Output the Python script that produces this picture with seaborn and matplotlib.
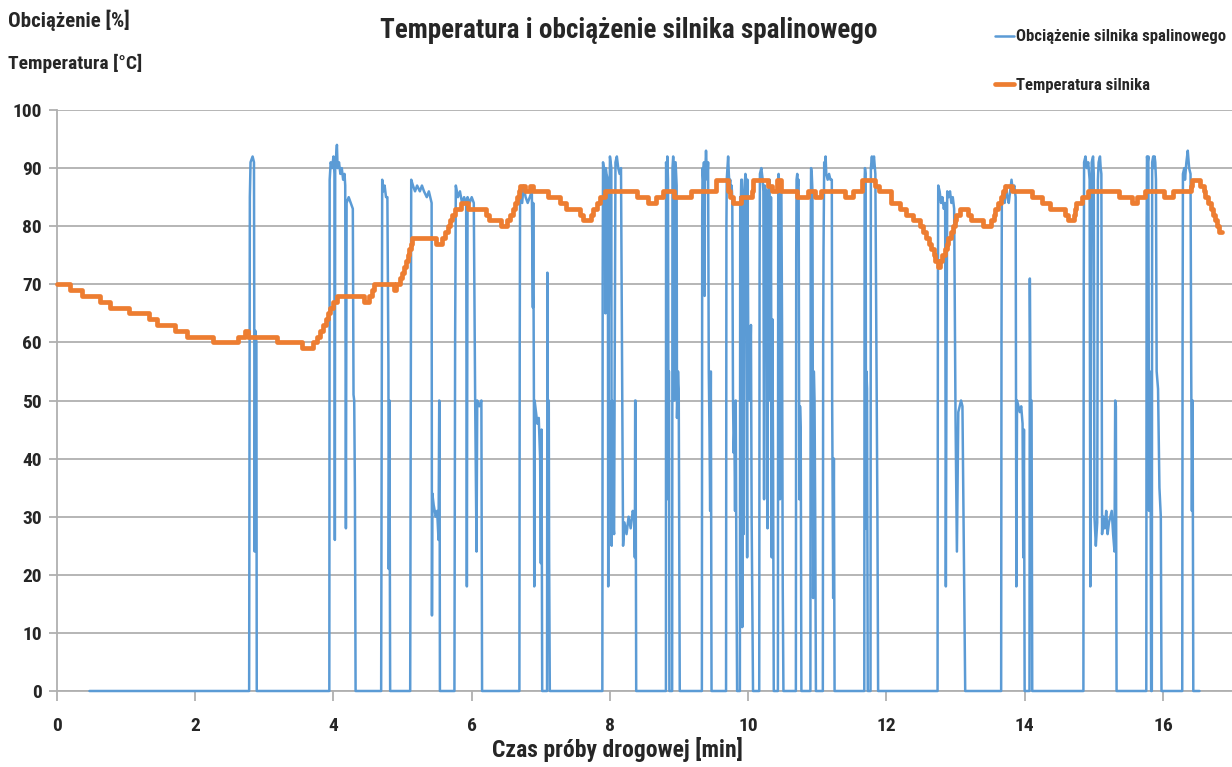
import numpy as np
import pandas as pd
import matplotlib
matplotlib.use("Agg")
import matplotlib.pyplot as plt
from matplotlib import font_manager
import seaborn as sns

# Engine temperature: step starts [min] and value held from that moment [°C]
temp_t = [0.00, 0.19, 0.36, 0.62, 0.77, 1.04, 1.33, 1.45, 1.71, 1.88,
          2.26, 2.62, 2.72, 2.76, 3.18, 3.55, 3.71, 3.76, 3.81, 3.85,
          3.89, 3.92, 3.95, 4.00, 4.05, 4.44, 4.51, 4.56, 4.58, 4.88,
          4.91, 4.96, 4.99, 5.02, 5.05, 5.08, 5.10, 5.12, 5.14, 5.48,
          5.57, 5.61, 5.65, 5.68, 5.71, 5.76, 5.84, 5.94, 6.20, 6.25,
          6.42, 6.51, 6.55, 6.60, 6.63, 6.65, 6.68, 6.70, 6.77, 6.84,
          6.89, 7.11, 7.28, 7.37, 7.57, 7.61, 7.72, 7.76, 7.81, 7.86,
          7.93, 8.39, 8.55, 8.67, 8.77, 8.92, 9.18, 9.54, 9.71, 9.73,
          9.78, 9.90, 10.05, 10.07, 10.29, 10.34, 10.41, 10.48, 10.70, 10.87,
          10.96, 11.06, 11.40, 11.52, 11.64, 11.83, 11.90, 12.07, 12.19, 12.29,
          12.39, 12.48, 12.53, 12.57, 12.61, 12.65, 12.69, 12.71, 12.75, 12.78,
          12.81, 12.85, 12.87, 12.89, 12.93, 12.96, 12.99, 13.01, 13.06, 13.18,
          13.23, 13.40, 13.52, 13.55, 13.57, 13.62, 13.66, 13.69, 13.71, 13.81,
          14.10, 14.25, 14.37, 14.58, 14.63, 14.71, 14.73, 14.75, 14.83, 14.92,
          15.36, 15.55, 15.62, 15.74, 16.01, 16.15, 16.40, 16.42, 16.54, 16.59,
          16.61, 16.66, 16.69, 16.73, 16.76, 16.79, 16.81, 16.86]
temp_v = [70, 69, 68, 67, 66, 65, 64, 63, 62, 61,
          60, 61, 62, 61, 60, 59, 60, 61, 62, 63,
          64, 65, 66, 67, 68, 67, 68, 69, 70, 69,
          70, 71, 72, 73, 74, 75, 76, 77, 78, 77,
          78, 79, 80, 81, 82, 83, 84, 83, 82, 81,
          80, 81, 82, 83, 84, 85, 86, 87, 86, 87,
          86, 85, 84, 83, 82, 81, 82, 83, 84, 85,
          86, 85, 84, 85, 86, 85, 86, 88, 86, 85,
          84, 85, 86, 88, 87, 86, 88, 86, 85, 86,
          85, 86, 85, 86, 88, 87, 86, 84, 83, 82,
          81, 80, 79, 78, 77, 76, 75, 74, 73, 74,
          75, 76, 77, 78, 79, 80, 81, 82, 83, 82,
          81, 80, 81, 82, 83, 84, 85, 86, 87, 86,
          85, 84, 83, 82, 81, 82, 83, 84, 85, 86,
          85, 84, 85, 86, 85, 86, 87, 88, 87, 86,
          85, 84, 83, 82, 81, 80, 79, 79]

# Engine load readings [min] -> [%], one line per working burst
load_t = [0.47, 2.78,
          2.79, 2.80, 2.83, 2.85, 2.855, 2.86, 2.87, 2.885, 2.89, 3.94,
          3.945, 3.96, 3.98, 4.00, 4.015, 4.02, 4.025, 4.05, 4.06, 4.08, 4.10, 4.12, 4.14, 4.16, 4.17, 4.18, 4.19, 4.22, 4.25, 4.28, 4.29, 4.30, 4.31, 4.32, 4.69,
          4.70, 4.705, 4.72, 4.74, 4.76, 4.78, 4.795, 4.80, 4.81, 4.82, 5.11,
          5.12, 5.125, 5.15, 5.18, 5.21, 5.25, 5.28, 5.31, 5.35, 5.38, 5.42, 5.425, 5.43, 5.45, 5.48, 5.50, 5.52, 5.53, 5.535, 5.54, 5.75,
          5.76, 5.77, 5.80, 5.83, 5.86, 5.89, 5.92, 5.93, 5.94, 5.97, 6.00, 6.03, 6.05, 6.07, 6.08, 6.11, 6.14, 6.15, 6.69,
          6.695, 6.70, 6.73, 6.75, 6.78, 6.81, 6.84, 6.87, 6.885, 6.89, 6.90, 6.905, 6.91, 6.93, 6.95, 6.97, 6.99, 7.00, 7.01, 7.02, 7.09, 7.095, 7.10, 7.115, 7.12, 7.13, 7.89,
          7.895, 7.90, 7.92, 7.93, 7.935, 7.94, 7.95, 7.97, 7.975, 7.98, 8.00, 8.02, 8.025, 8.03, 8.04, 8.06, 8.08, 8.10, 8.12, 8.14, 8.16, 8.19, 8.21, 8.24, 8.27, 8.30, 8.33, 8.35, 8.36, 8.365, 8.37, 8.38, 8.81,
          8.812, 8.82, 8.825, 8.83, 8.84, 8.845, 8.855, 8.86, 8.90, 8.905, 8.915, 8.925, 8.93, 8.935, 8.95, 8.965, 8.97, 8.985, 8.995, 9.01, 9.33,
          9.335, 9.34, 9.35, 9.36, 9.37, 9.375, 9.39, 9.40, 9.41, 9.42, 9.43, 9.44, 9.45, 9.46, 9.47, 9.68,
          9.685, 9.69, 9.70, 9.71, 9.72, 9.73, 9.74, 9.75, 9.76, 9.77, 9.78, 9.79, 9.80, 9.81, 9.82, 9.83, 9.84, 9.88,
          9.885, 9.89, 9.895, 9.90, 9.91, 9.915, 9.92, 9.93, 9.935, 9.945, 9.96, 9.97, 9.98, 9.985, 9.99, 10.00, 10.02, 10.04, 10.05, 10.07, 10.16,
          10.165, 10.17, 10.19, 10.21, 10.22, 10.23, 10.24, 10.26, 10.27, 10.28, 10.29, 10.31, 10.32, 10.33, 10.34, 10.35, 10.36, 10.37, 10.43,
          10.435, 10.44, 10.45, 10.46, 10.47, 10.48, 10.49, 10.50, 10.51, 10.69,
          10.695, 10.70, 10.71, 10.72, 10.73, 10.74, 10.75, 10.76, 10.77, 10.90,
          10.905, 10.91, 10.92, 10.93, 10.94, 10.95, 10.96, 10.97, 10.98, 11.08,
          11.085, 11.09, 11.10, 11.11, 11.12, 11.13, 11.15, 11.17, 11.19, 11.21, 11.215, 11.23, 11.24, 11.25, 11.68,
          11.685, 11.69, 11.70, 11.705, 11.71, 11.72, 11.73, 11.77, 11.775, 11.79, 11.80, 11.82, 11.84, 11.86, 11.87, 11.88, 12.74,
          12.745, 12.75, 12.77, 12.79, 12.81, 12.83, 12.85, 12.86, 12.87, 12.88, 12.90, 12.92, 12.94, 12.96, 12.98, 13.00, 13.02, 13.04, 13.06, 13.08, 13.10, 13.12, 13.14, 13.66,
          13.665, 13.67, 13.69, 13.71, 13.73, 13.75, 13.77, 13.79, 13.81, 13.83, 13.85, 13.87, 13.88, 13.89, 13.91, 13.93, 13.95, 13.97, 13.98, 13.99, 14.00, 14.07, 14.075, 14.085, 14.10, 14.105, 14.11, 14.85,
          14.855, 14.86, 14.88, 14.90, 14.92, 14.94, 14.95, 14.96, 14.97, 14.99, 15.00, 15.01, 15.03, 15.05, 15.06, 15.07, 15.09, 15.10, 15.11, 15.12, 15.14, 15.16, 15.18, 15.20, 15.22, 15.24, 15.26, 15.28, 15.30, 15.31, 15.32, 15.33, 15.76,
          15.765, 15.77, 15.78, 15.79, 15.80, 15.81, 15.82, 15.83, 15.84, 15.845, 15.86, 15.87, 15.88, 15.89, 15.90, 15.91, 15.93, 15.95, 15.97, 15.98, 16.28,
          16.285, 16.29, 16.31, 16.32, 16.34, 16.36, 16.38, 16.40, 16.41, 16.42, 16.43, 16.44, 16.53]
load_v = [0, 0,
          85, 91, 92, 91, 60, 24, 62, 60, 0, 0,
          88, 91, 90, 92, 89, 26, 90, 94, 90, 91, 89, 90, 88, 89, 87, 28, 84, 85, 84, 83, 51, 50, 35, 0, 0,
          60, 88, 86, 87, 85, 85, 56, 21, 50, 0, 0,
          60, 88, 87, 86, 87, 86, 87, 86, 85, 86, 84, 13, 34, 32, 30, 31, 26, 50, 49, 0, 0,
          60, 87, 85, 86, 84, 85, 84, 18, 85, 84, 85, 84, 50, 24, 50, 49, 50, 0, 0,
          60, 86, 84, 87, 85, 84, 85, 86, 66, 84, 50, 18, 50, 48, 46, 47, 40, 22, 45, 0, 0, 72, 50, 50, 23, 0, 0,
          70, 91, 89, 86, 65, 90, 89, 88, 18, 60, 92, 90, 25, 50, 30, 27, 91, 92, 90, 89, 90, 25, 29, 27, 30, 28, 31, 30, 23, 50, 50, 0, 0,
          91, 90, 33, 92, 88, 55, 55, 0, 0, 90, 92, 89, 50, 91, 91, 87, 47, 55, 52, 0, 0,
          82, 90, 88, 91, 68, 88, 93, 90, 88, 91, 55, 45, 31, 55, 0, 0,
          80, 88, 90, 92, 89, 87, 88, 86, 87, 85, 51, 41, 45, 31, 50, 20, 0, 0,
          85, 60, 85, 88, 88, 11, 50, 85, 27, 86, 89, 88, 50, 23, 88, 63, 50, 63, 30, 0, 0,
          72, 89, 90, 88, 86, 33, 87, 86, 60, 28, 86, 88, 50, 85, 23, 64, 40, 0, 0,
          88, 89, 87, 33, 86, 87, 63, 18, 0, 0,
          75, 88, 89, 87, 88, 33, 49, 45, 0, 0,
          80, 90, 89, 86, 16, 55, 50, 30, 0, 0,
          60, 76, 91, 89, 92, 89, 88, 89, 88, 88, 50, 16, 40, 0, 0,
          88, 90, 89, 28, 55, 52, 0, 0, 90, 92, 90, 92, 89, 48, 30, 0, 0,
          70, 87, 86, 84, 85, 83, 84, 18, 60, 86, 85, 86, 84, 85, 83, 47, 24, 48, 49, 50, 49, 25, 0, 0,
          60, 85, 86, 84, 87, 85, 84, 86, 88, 86, 87, 85, 18, 50, 49, 48, 49, 46, 23, 45, 0, 0, 71, 50, 50, 23, 0, 0,
          70, 91, 92, 90, 91, 88, 18, 60, 91, 92, 89, 30, 25, 29, 88, 91, 92, 90, 89, 27, 30, 28, 31, 27, 29, 30, 31, 27, 24, 50, 49, 0, 0,
          80, 92, 91, 92, 31, 55, 50, 0, 0, 91, 92, 90, 92, 91, 88, 55, 52, 35, 30, 0, 0,
          60, 89, 90, 88, 91, 93, 90, 89, 55, 31, 50, 0, 0]

assert len(temp_t) == len(temp_v)
assert len(load_t) == len(load_v)

title = "Temperatura i obciążenie silnika spalinowego"
ylabel_lines = ["Obciążenie [%]", "Temperatura [°C]"]
xlabel = "Czas próby drogowej [min]"
load_name = "Obciążenie silnika spalinowego"
temp_name = "Temperatura silnika"
x_ticks = [0, 2, 4, 6, 8, 10, 12, 14, 16]
y_ticks = [0, 10, 20, 30, 40, 50, 60, 70, 80, 90, 100]

BLUE = "#5B9BD5"
ORANGE = "#ED7D31"
GRID = "#B0B0B0"

sns.set_theme(style="white")
installed = {f.name for f in font_manager.fontManager.ttflist}
narrow = [n for n in ["Liberation Sans Narrow", "DejaVu Sans Condensed",
                      "Roboto Condensed", "Open Sans Condensed"] if n in installed]
plt.rcParams["font.family"] = narrow[:1] + ["DejaVu Sans"]
plt.rcParams["font.weight"] = "bold"

fig = plt.figure(figsize=(12.32, 7.67), dpi=100)
ax = fig.add_axes([57 / 1232, 1 - 691 / 767, 1 - 57 / 1232, (691 - 110) / 767])

load_df = pd.DataFrame({"t": load_t, "v": load_v})
temp_df = pd.DataFrame({"t": temp_t, "v": temp_v})

sns.lineplot(data=load_df, x="t", y="v", ax=ax, color=BLUE, lw=1.8,
             sort=False, estimator=None, label=load_name, zorder=3, clip_on=False)
sns.lineplot(data=temp_df, x="t", y="v", ax=ax, color=ORANGE, lw=3.4,
             sort=False, estimator=None, drawstyle="steps-post",
             label=temp_name, zorder=4, clip_on=False)

ax.set_xlim(0, 17)
ax.set_ylim(0, 100)
ax.set_xticks(x_ticks)
ax.set_yticks(y_ticks)
ax.set_xticklabels([str(v) for v in x_ticks], fontsize=14, fontweight="bold")
ax.set_yticklabels([str(v) for v in y_ticks], fontsize=14, fontweight="bold")
ax.yaxis.grid(True, color=GRID, lw=1.3)
ax.xaxis.grid(False)
ax.set_axisbelow(True)
for side in ["top", "right"]:
    ax.spines[side].set_visible(False)
for side in ["left", "bottom"]:
    ax.spines[side].set_color(GRID)
    ax.spines[side].set_linewidth(1.3)
ax.tick_params(axis="x", length=7, width=1.3, color=GRID, pad=12, direction="out",
               bottom=True)
ax.tick_params(axis="y", length=6, width=1.3, color=GRID, pad=5, direction="out",
               left=True)
ax.set_xlabel("")
ax.set_ylabel("")

fig.text(617 / 1232, 1 - 750 / 767, xlabel, fontsize=17, fontweight="bold",
         ha="center", va="center")
fig.text(629 / 1232, 1 - 30 / 767, title, fontsize=19.5, fontweight="bold",
         ha="center", va="center")
fig.text(8 / 1232, 1 - 20 / 767, ylabel_lines[0], fontsize=15, fontweight="bold",
         ha="left", va="center")
fig.text(8 / 1232, 1 - 63 / 767, ylabel_lines[1], fontsize=14, fontweight="bold",
         ha="left", va="center")

ax.get_legend().remove()
handles, labels = ax.get_legend_handles_labels()
fig.legend(handles, labels, loc="upper left", bbox_to_anchor=(987 / 1232, 1 - 21 / 767),
           frameon=False, handlelength=1.1, handletextpad=0.15,
           labelspacing=2.0, borderpad=0, prop={"weight": "bold", "size": 12})

fig.savefig("out.png", dpi=100)
